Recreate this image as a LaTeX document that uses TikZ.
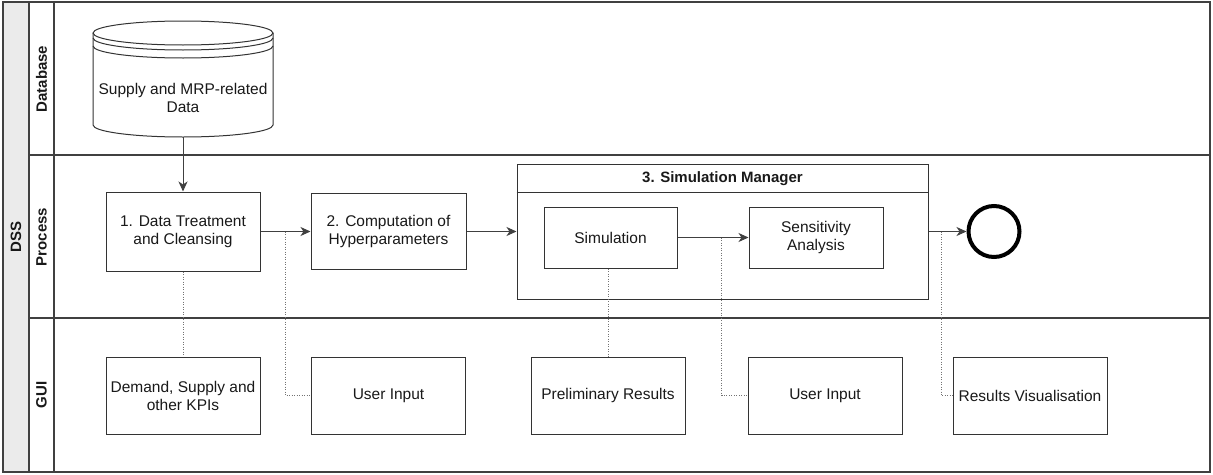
\documentclass[tikz,border=0pt]{standalone}
\usepackage{fontspec}
\setmainfont{Liberation Sans}
\usetikzlibrary{arrows.meta,calc}
\begin{document}
\begin{tikzpicture}[x=1pt,y=-1pt,
  every node/.style={font=\fontsize{15.5}{18}\selectfont, text=black!90},
  box/.style={draw=black!80, line width=1pt, minimum width=154pt, minimum height=77pt, align=center, inner sep=0pt, fill=white},
  smallbox/.style={box, minimum width=133pt, minimum height=61pt},
  lane/.style={font=\fontsize{15}{18}\selectfont\bfseries, rotate=90, inner sep=0pt},
  frame/.style={draw=black!75, line width=1.2pt},
  flow/.style={draw=black!75, line width=1pt, -{Stealth[length=10pt,width=9pt,inset=3pt]}},
  dotline/.style={draw=black!55, line width=1pt, dash pattern=on 1pt off 1.5pt},
  cyl/.style={draw=black!80, line width=1pt}
]
\useasboundingbox (0,0) rectangle (1213,474);
% pool frame
\fill[black!8] (3,2) rectangle (29,472);
\draw[frame] (3,2) rectangle (1210,472);
\draw[frame] (29,2) -- (29,472);
\draw[frame] (54,2) -- (54,472);
\draw[frame] (29,155) -- (1210,155);
\draw[frame] (29,318) -- (1210,318);
% labels
\node[lane] (dss) at (16,237) {DSS};
\node[lane] (ldb) at (41.5,79) {Database};
\node[lane] (lpr) at (41.5,237) {Process};
\node[lane] (lgui) at (41.5,395) {GUI};
% database cylinder
\filldraw[cyl, fill=white] (93,33) -- (93,125) arc[start angle=180,end angle=360,x radius=90pt,y radius=12pt] -- (273,33);
\filldraw[cyl, fill=white] (183,33) ellipse[x radius=90pt, y radius=12pt];
\draw[cyl] (93,38) arc[start angle=180,end angle=360,x radius=90pt,y radius=12pt];
\draw[cyl] (93,46) arc[start angle=180,end angle=360,x radius=90pt,y radius=12pt];
\node[minimum width=180pt, minimum height=116pt, inner sep=0pt] (db) at (183,79) {};
\node[align=center] (dbt) at (183,98) {Supply and MRP-related\\Data};
% process lane
\node[box, minimum height=79pt] (b1) at (183,231.5) {1. Data Treatment\\and Cleansing};
\node[box, minimum width=155pt, minimum height=76pt] (b2) at (388.5,231.5) {2. Computation of\\Hyperparameters};
\node[draw=black!80, line width=1pt, minimum width=411pt, minimum height=135pt, inner sep=0pt] (sm) at (722.5,231.5) {};
\draw[draw=black!80, line width=1pt] ([yshift=-29pt]sm.north west) -- ([yshift=-29pt]sm.north east);
\node[font=\fontsize{15}{18}\selectfont\bfseries] (smt) at (722.5,178.5) {3. Simulation Manager};
\node[smallbox] (sim) at (610.5,237.5) {Simulation};
\node[smallbox, minimum width=134pt] (sens) at (816,237.5) {Sensitivity\\Analysis};
\node[circle, draw=black, line width=4pt, minimum size=51pt, inner sep=0pt] (end) at (994,231.5) {};
% GUI lane
\node[box] (k1) at (183,395.5) {Demand, Supply and\\other KPIs};
\node[box] (ui1) at (388.5,395.5) {User Input};
\node[box] (pr) at (608,395.5) {Preliminary Results};
\node[box] (ui2) at (825,395.5) {User Input};
\node[box] (rv) at (1030,395.5) {Results Visualisation};
% flows
\draw[flow] (db.south) -- (b1.north);
\draw[flow] (b1.east) -- (b2.west);
\draw[flow] (b2.east) -- (sm.west);
\draw[flow] (sim.east) -- (sens.west);
\draw[flow] (sm.east) -- (end.west);
% dotted associations
\coordinate (c1) at ($(b1.east)!0.5!(b2.west)$);
\coordinate (c2) at ($(sim.east)!0.625!(sens.west)$);
\coordinate (c3) at ($(sm.east)!0.33!(end.west)$);
\draw[dotline] (b1.south) -- (k1.north);
\draw[dotline] (c1) |- (ui1.west);
\draw[dotline] (pr.north |- sim.south) -- (pr.north);
\draw[dotline] (c2) |- (ui2.west);
\draw[dotline] (c3) |- (rv.west);
\end{tikzpicture}
\end{document}
